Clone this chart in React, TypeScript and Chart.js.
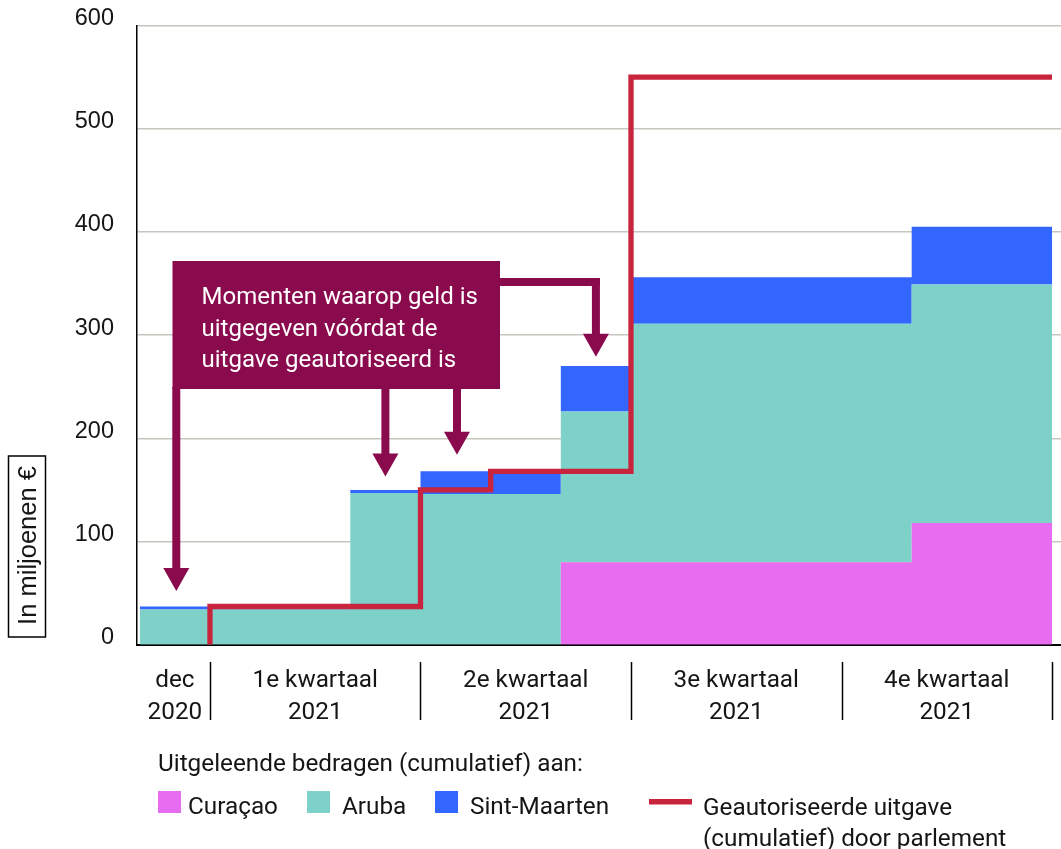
import React, { useEffect, useRef } from "react";
import { Chart, registerables } from "chart.js";

Chart.register(...registerables);

// Months counted from 1 December 2020 (0 = dec 2020, 13 = 1 jan 2022)
const periodStarts = [0, 1, 3, 4, 6, 7, 11, 13];
const curacao = [0, 0, 0, 0, 80, 80, 118, 118];
const aruba = [34, 34, 147, 146, 146, 231, 231, 231];
const sintMaarten = [3, 3, 3, 22, 44, 45, 56, 56];

const authorisedMonths = [1, 1, 4, 5, 7, 13];
const authorisedValues = [0, 37, 150, 168, 550, 550];

const periodLabelCenters = [0.5, 2.5, 5.5, 8.5, 11.5];
const periodLabels = [
  ["dec", "2020"],
  ["1e kwartaal", "2021"],
  ["2e kwartaal", "2021"],
  ["3e kwartaal", "2021"],
  ["4e kwartaal", "2021"],
];
const periodSeparators = [1, 4, 7, 10, 13];

const yTickValues = [0, 100, 200, 300, 400, 500, 600];

// Annotation arrows: month position and value at the arrow tip
const arrowMonths = [0.52, 3.5, 4.52, 6.5];
const arrowTipValues = [52, 163, 184, 279];
const noteLines = [
  "Momenten waarop geld is",
  "uitgegeven vóórdat de",
  "uitgave geautoriseerd is",
];

const COL_CUR = "#e86cf0";
const COL_ARU = "#7dd1c9";
const COL_SXM = "#3366ff";
const COL_RED = "#c8243e";
const MAROON = "#8a0a4e";
const TEXT = "#151515";

const overlayPlugin = {
  id: "overlay",
  afterDatasetsDraw(chart: any) {
    const { ctx, scales } = chart;
    const x = scales.x;
    const y = scales.y;
    ctx.save();
    ctx.fillStyle = MAROON;
    const boxL = 172.5, boxT = 261, boxR = 500, boxB = 389;
    ctx.fillRect(boxL, boxT, boxR - boxL, boxB - boxT);
    const stemW = 8, headW = 26, headH = 23;
    arrowMonths.forEach((m, i) => {
      const ax = x.getPixelForValue(m);
      const tip = y.getPixelForValue(arrowTipValues[i]);
      const headTop = tip - headH;
      if (ax > boxR) {
        const cy = 278;
        ctx.fillRect(boxR - 2, cy, ax + stemW / 2 - boxR + 2, stemW);
        ctx.fillRect(ax - stemW / 2, cy, stemW, headTop - cy + 1);
      } else {
        ctx.fillRect(ax - stemW / 2, boxB - 2, stemW, headTop - boxB + 3);
      }
      ctx.beginPath();
      ctx.moveTo(ax - headW / 2, headTop);
      ctx.lineTo(ax + headW / 2, headTop);
      ctx.lineTo(ax, tip);
      ctx.closePath();
      ctx.fill();
    });
    ctx.fillStyle = "#ffffff";
    ctx.font = "24px Roboto";
    ctx.textAlign = "left";
    ctx.textBaseline = "alphabetic";
    const baselines = [304, 335.5, 367];
    noteLines.forEach((t, i) => ctx.fillText(t, 201.5, baselines[i]));
    ctx.restore();
  },
  afterDraw(chart: any) {
    const { ctx, scales } = chart;
    const x = scales.x;
    ctx.save();
    // period separators under the x axis
    ctx.strokeStyle = "#000";
    ctx.lineWidth = 1.5;
    periodSeparators.forEach((m) => {
      const px = Math.round(x.getPixelForValue(m)) + 0.5;
      ctx.beginPath();
      ctx.moveTo(px, 662);
      ctx.lineTo(px, 720);
      ctx.stroke();
    });

    // y-axis title in a box
    ctx.lineWidth = 1.5;
    ctx.strokeStyle = "#000";
    ctx.strokeRect(8.5, 456, 37, 181);
    ctx.save();
    ctx.translate(27.5, 545.5);
    ctx.rotate(-Math.PI / 2);
    ctx.fillStyle = TEXT;
    const title = "In miljoenen €";
    ctx.font = "23px 'Liberation Sans'";
    const w = ctx.measureText(title).width || 156;
    const size = Math.max(20, Math.min(27, (23 * 159) / w));
    ctx.font = `${size.toFixed(1)}px 'Liberation Sans'`;
    ctx.textAlign = "center";
    ctx.textBaseline = "middle";
    ctx.fillText(title, 0, 1);
    ctx.restore();

    // legend
    ctx.fillStyle = TEXT;
    ctx.font = "24.3px Roboto";
    ctx.textAlign = "left";
    ctx.textBaseline = "alphabetic";
    ctx.fillText("Uitgeleende bedragen (cumulatief) aan:", 158, 770.5);
    const items = [
      { c: COL_CUR, t: "Curaçao", sx: 158, tx: 188 },
      { c: COL_ARU, t: "Aruba", sx: 307, tx: 342 },
      { c: COL_SXM, t: "Sint-Maarten", sx: 435, tx: 470 },
    ];
    items.forEach((it) => {
      ctx.fillStyle = it.c;
      ctx.fillRect(it.sx, 791, 23, 22);
      ctx.fillStyle = TEXT;
      ctx.fillText(it.t, it.tx, 814);
    });
    ctx.fillStyle = COL_RED;
    ctx.fillRect(649, 799, 43, 5.5);
    ctx.fillStyle = TEXT;
    ctx.fillText("Geautoriseerde uitgave", 703, 814.5);
    ctx.fillText("(cumulatief) door parlement", 703, 845.5);
    ctx.restore();
  },
};

export default function App() {
  const ref = useRef<HTMLCanvasElement | null>(null);

  useEffect(() => {
    if (!ref.current) return;
    const pts = (vals: number[]) => periodStarts.map((m, i) => ({ x: m, y: vals[i] }));
    const chart = new Chart(ref.current, {
      type: "line",
      data: {
        datasets: [
          {
            label: "Geautoriseerde uitgave (cumulatief) door parlement",
            data: authorisedMonths.map((m, i) => ({ x: m, y: authorisedValues[i] })),
            stack: "auth",
            borderColor: COL_RED,
            borderWidth: 5.3,
            stepped: true,
            fill: false,
            pointRadius: 0,
            borderJoinStyle: "miter",
            borderCapStyle: "butt",
          } as any,
          {
            label: "Curaçao",
            data: pts(curacao),
            stack: "spend",
            backgroundColor: COL_CUR,
            borderWidth: 0,
            borderColor: "rgba(0,0,0,0)",
            stepped: true,
            fill: "origin",
            pointRadius: 0,
          } as any,
          {
            label: "Aruba",
            data: pts(aruba),
            stack: "spend",
            backgroundColor: COL_ARU,
            borderWidth: 0,
            borderColor: "rgba(0,0,0,0)",
            stepped: true,
            fill: "-1",
            pointRadius: 0,
          } as any,
          {
            label: "Sint-Maarten",
            data: pts(sintMaarten),
            stack: "spend",
            backgroundColor: COL_SXM,
            borderWidth: 0,
            borderColor: "rgba(0,0,0,0)",
            stepped: true,
            fill: "-1",
            pointRadius: 0,
          } as any,
        ],
      },
      options: {
        responsive: false,
        animation: false,
        devicePixelRatio: 1,
        layout: { padding: { top: 25.5, left: 0, right: 0, bottom: 0 } },
        plugins: {
          legend: { display: false },
          tooltip: { enabled: false },
        },
        scales: {
          x: {
            type: "linear",
            min: -0.04,
            max: 13.128,
            offset: false,
            grid: { display: false, drawTicks: false },
            border: { display: true, color: "#000", width: 2 },
            afterBuildTicks: (s: any) => {
              s.ticks = periodLabelCenters.map((v) => ({ value: v }));
            },
            afterFit: (s: any) => {
              s.height = 849 - 644.7;
              s.paddingLeft = 0;
              s.paddingRight = 0;
            },
            ticks: {
              autoSkip: false,
              maxRotation: 0,
              minRotation: 0,
              padding: 20.5,
              color: TEXT,
              font: { family: "Roboto", size: 24.3, lineHeight: 1.32 },
              callback: (v: any) => {
                const i = periodLabelCenters.indexOf(Number(v));
                return i >= 0 ? periodLabels[i] : "";
              },
            },
          },
          y: {
            stacked: true,
            min: 0,
            max: 600,
            afterBuildTicks: (s: any) => {
              s.ticks = yTickValues.map((v) => ({ value: v }));
            },
            afterFit: (s: any) => {
              s.width = 137;
              s.paddingTop = 0;
              s.paddingBottom = 0;
            },
            grid: {
              drawTicks: false,
              lineWidth: 1.5,
              color: (c: any) => (c.tick && c.tick.value === 0 ? "rgba(0,0,0,0)" : "#c6c6be"),
            },
            border: { display: true, color: "#000", width: 1.5 },
            ticks: {
              padding: 23,
              labelOffset: -7,
              color: TEXT,
              font: { family: "'Liberation Sans'", size: 23.5 },
              callback: (v: any) => String(v),
            },
          },
        },
      } as any,
      plugins: [overlayPlugin],
    });
    return () => chart.destroy();
  }, []);

  return (
    <div style={{ position: "absolute", left: 0, top: 0, width: 1061, height: 849, background: "#fff" }}>
      <canvas ref={ref} width={1061} height={849} style={{ display: "block", width: 1061, height: 849 }} />
    </div>
  );
}
